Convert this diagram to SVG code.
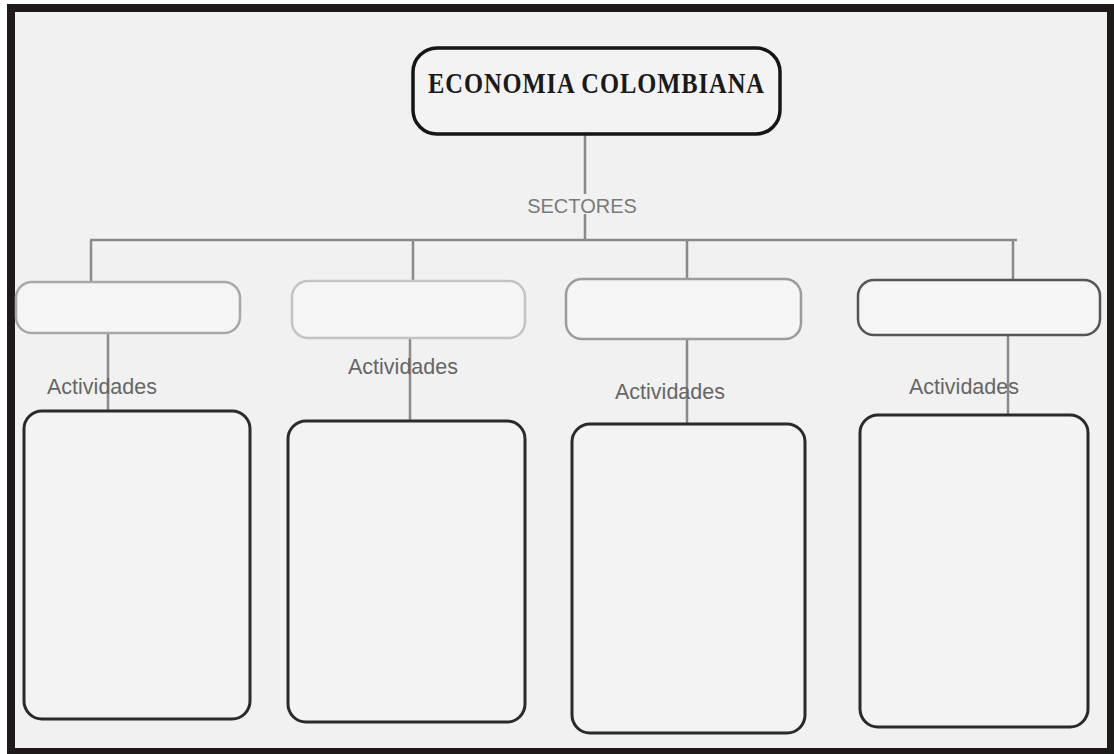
<svg xmlns="http://www.w3.org/2000/svg" width="1114" height="754" viewBox="0 0 1114 754">
<style>
.sector{fill:#f5f5f5;stroke-width:2.5}
.act{fill:#f3f3f3;stroke:#2a2a2a;stroke-width:3}
.lbl{font-family:"Liberation Sans",Arial,sans-serif;font-size:21.5px;fill:#666666;text-anchor:middle}
.conn line{stroke:#8a8a8a;stroke-width:2.5}
</style>
<rect x="0" y="0" width="1114" height="754" fill="#ffffff"/>
<rect x="7" y="4" width="1107" height="750" fill="#1e1a1a"/>
<rect x="15" y="12" width="1092" height="736" fill="#f1f1f1"/>
<g class="conn" id="connectors">
<line x1="585" y1="134" x2="585" y2="194"/>
<line x1="585" y1="214" x2="585" y2="240"/>
<line x1="90" y1="240" x2="1017" y2="240"/>
<line x1="91" y1="240" x2="91" y2="283"/>
<line x1="413" y1="240" x2="413" y2="281"/>
<line x1="687" y1="240" x2="687" y2="279"/>
<line x1="1013" y1="240" x2="1013" y2="281"/>
<line x1="108" y1="334" x2="108" y2="411"/>
<line x1="410" y1="339" x2="410" y2="421"/>
<line x1="687" y1="340" x2="687" y2="423"/>
<line x1="1008" y1="336" x2="1008" y2="414"/>
</g>
<g id="root">
<rect x="413" y="48" width="367" height="86" rx="24" fill="#f3f3f3" stroke="#151515" stroke-width="3.5"/>
<text transform="translate(596,93) scale(1,1.2)" x="0" y="0" font-family="'Liberation Serif','Times New Roman',serif" font-weight="bold" font-size="24.5" fill="#1a1a1a" text-anchor="middle" textLength="336" lengthAdjust="spacing">ECONOMIA COLOMBIANA</text>
</g>
<g id="label-sectores"><text class="lbl" x="582" y="213" style="font-size:20px;fill:#7a7a7a">SECTORES</text></g>
<g id="sector1"><rect class="sector" x="16" y="282" width="224" height="51" rx="16" stroke="#a8a8a8"/></g>
<g id="sector2"><rect class="sector" x="292" y="281" width="233" height="57" rx="16" stroke="#c4c4c4"/></g>
<g id="sector3"><rect class="sector" x="566" y="279" width="235" height="60" rx="16" stroke="#9c9c9c"/></g>
<g id="sector4"><rect class="sector" x="858" y="280" width="242" height="55" rx="16" stroke="#555555" stroke-width="3"/></g>
<g id="label1"><text class="lbl" x="102" y="394">Actividades</text></g>
<g id="label2"><text class="lbl" x="403" y="374">Actividades</text></g>
<g id="label3"><text class="lbl" x="670" y="399">Actividades</text></g>
<g id="label4"><text class="lbl" x="964" y="394">Actividades</text></g>
<g id="act1"><rect class="act" x="24" y="411" width="226" height="308" rx="18"/></g>
<g id="act2"><rect class="act" x="288" y="421" width="237" height="301" rx="18"/></g>
<g id="act3"><rect class="act" x="572" y="424" width="233" height="309" rx="18"/></g>
<g id="act4"><rect class="act" x="860" y="415" width="228" height="312" rx="18"/></g>
</svg>
